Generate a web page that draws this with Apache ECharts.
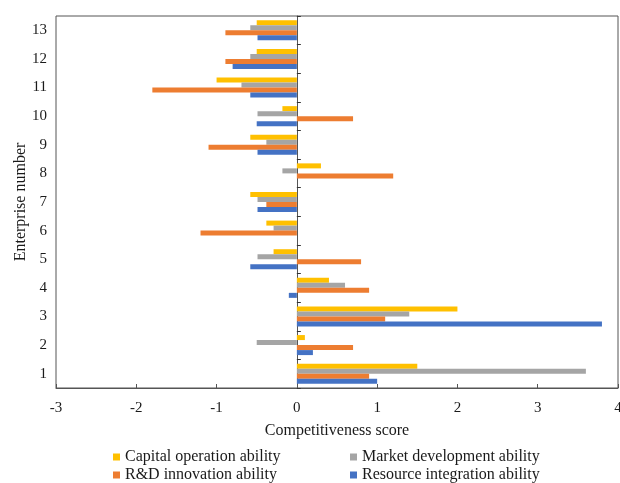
<!DOCTYPE html>
<html>
<head>
<meta charset="utf-8">
<script src="https://cdn.jsdelivr.net/npm/echarts@6/dist/echarts.min.js"></script>
<style>html,body{margin:0;padding:0;background:#fff;}#c{width:620px;height:483px;}</style>
</head>
<body>
<div id="c"></div>
<script>
const categories = ['1','2','3','4','5','6','7','8','9','10','11','12','13'];
const capital  = [1.5, 0.1, 2.0, 0.4, -0.29, -0.38, -0.58, 0.3, -0.58, -0.18, -1.0, -0.5, -0.5];
const market   = [3.6, -0.5, 1.4, 0.6, -0.49, -0.29, -0.49, -0.18, -0.38, -0.49, -0.69, -0.58, -0.58];
const rd       = [0.9, 0.7, 1.1, 0.9, 0.8, -1.2, -0.38, 1.2, -1.1, 0.7, -1.8, -0.89, -0.89];
const resource = [1.0, 0.2, 3.8, -0.1, -0.58, 0, -0.49, 0, -0.49, -0.5, -0.58, -0.8, -0.49];
const xTicks = [-3, -2, -1, 0, 1, 2, 3, 4];
const seriesNames = ['Capital operation ability', 'Market development ability', 'R&D innovation ability', 'Resource integration ability'];

const font = 'Liberation Serif';
const txt = '#1a1a1a';
function leg(name, left, top) {
  return {left: left, top: top, itemWidth: 7, itemHeight: 7, itemGap: 0, icon: 'rect', padding: 0,
    data: [name], textStyle: {fontFamily: font, fontSize: 16, color: txt, lineHeight: 16}};
}
const chart = echarts.init(document.getElementById('c'));
chart.setOption({
  animation: false,
  textStyle: {fontFamily: font},
  grid: {left: 56, right: 2, top: 16, bottom: 95, show: true, borderColor: '#555', borderWidth: 1, outerBoundsMode: 'none', containLabel: false},
  legend: [
    leg(seriesNames[0], 113, 449),
    leg(seriesNames[2], 113, 467),
    leg(seriesNames[1], 350, 449),
    leg(seriesNames[3], 350, 467)
  ],
  xAxis: {
    type: 'value', min: xTicks[0], max: xTicks[xTicks.length - 1], interval: 1,
    name: 'Competitiveness score', nameLocation: 'middle', nameGap: 35, nameMoveOverlap: false,
    nameTextStyle: {fontFamily: font, fontSize: 16, color: txt},
    axisLine: {show: true, lineStyle: {color: '#555'}},
    axisTick: {show: true, inside: true, length: 4, lineStyle: {color: '#555'}},
    axisLabel: {fontFamily: font, fontSize: 15, color: txt, margin: 13},
    splitLine: {show: false}
  },
  yAxis: [
    {type: 'category', data: categories, position: 'left',
     name: 'Enterprise number', nameLocation: 'middle', nameGap: 27, nameMoveOverlap: false,
     nameTextStyle: {fontFamily: font, fontSize: 16, color: txt},
     axisLine: {show: false, onZero: false}, axisTick: {show: false},
     axisLabel: {fontFamily: font, fontSize: 15, color: txt, margin: 9}},
    {type: 'category', data: categories, position: 'right',
     axisLine: {show: true, onZero: true, lineStyle: {color: '#555'}},
     axisTick: {show: true, inside: false, length: 4, lineStyle: {color: '#333'}},
     axisLabel: {show: false}}
  ],
  series: [
    {name: seriesNames[0], type: 'bar', data: capital, itemStyle: {color: '#FFC000'}, barGap: '0%', barCategoryGap: '30%'},
    {name: seriesNames[1], type: 'bar', data: market, itemStyle: {color: '#A5A5A5'}},
    {name: seriesNames[2], type: 'bar', data: rd, itemStyle: {color: '#ED7D31'}},
    {name: seriesNames[3], type: 'bar', data: resource, itemStyle: {color: '#4472C4'}}
  ]
});
</script>
</body>
</html>
